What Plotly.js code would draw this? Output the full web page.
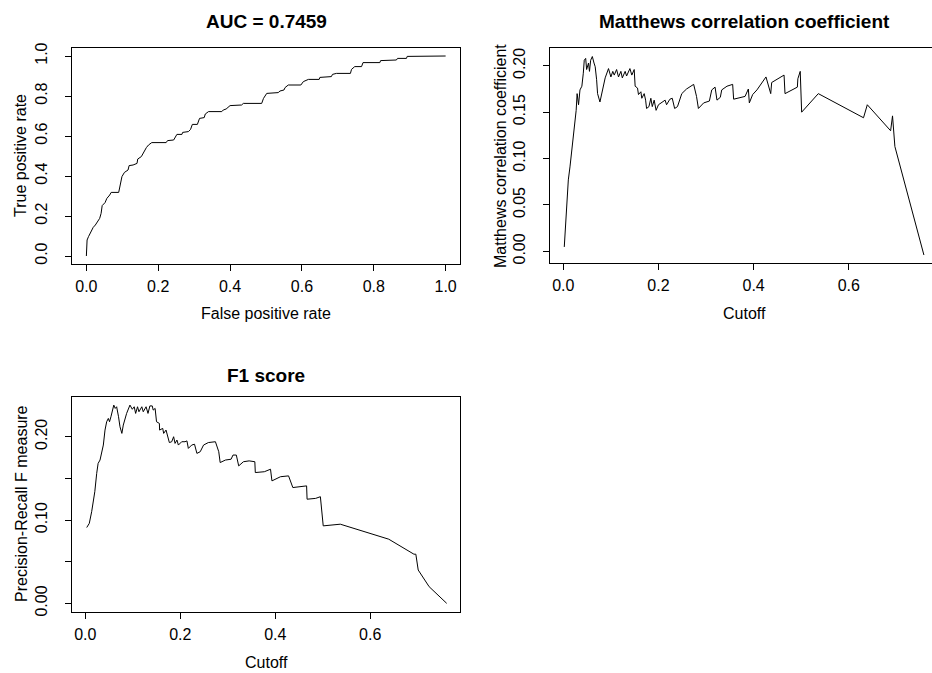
<!DOCTYPE html>
<html>
<head>
<meta charset="utf-8">
<script src="https://cdn.plot.ly/plotly-3.0.1.min.js"></script>
<style>html,body{margin:0;padding:0;background:#fff}#chart{width:932px;height:673px}</style>
</head>
<body>
<div id="chart"></div>
<script>
// ROC curve
const rocFPR = [0,0.002,0.006,0.013,0.019,0.025,0.031,0.037,0.041,0.044,0.052,0.057,0.065,0.069,0.09,0.094,0.099,0.106,0.116,0.119,0.13,0.141,0.143,0.153,0.159,0.167,0.173,0.182,0.222,0.226,0.243,0.247,0.252,0.266,0.268,0.284,0.29,0.295,0.309,0.315,0.328,0.331,0.34,0.377,0.381,0.389,0.4,0.432,0.437,0.488,0.493,0.502,0.534,0.539,0.55,0.553,0.562,0.597,0.604,0.618,0.648,0.65,0.682,0.685,0.696,0.735,0.738,0.747,0.766,0.77,0.817,0.819,0.863,0.866,0.891,0.893,1];
const rocTPR = [0,0.08,0.097,0.122,0.143,0.155,0.172,0.188,0.213,0.252,0.267,0.288,0.305,0.318,0.318,0.347,0.397,0.418,0.43,0.452,0.455,0.463,0.485,0.497,0.517,0.542,0.555,0.567,0.567,0.577,0.58,0.593,0.608,0.608,0.618,0.622,0.633,0.658,0.658,0.688,0.692,0.71,0.722,0.722,0.73,0.735,0.752,0.755,0.763,0.763,0.788,0.813,0.817,0.825,0.83,0.842,0.855,0.855,0.872,0.883,0.883,0.893,0.897,0.908,0.913,0.913,0.933,0.947,0.947,0.967,0.967,0.977,0.98,0.988,0.988,0.998,1];

// Matthews correlation coefficient vs cutoff
const mccCutoff = [0.002,0.0105,0.014,0.0175,0.021,0.022,0.0245,0.027,0.029,0.032,0.035,0.039,0.042,0.044,0.047,0.049,0.053,0.055,0.0575,0.061,0.0645,0.067,0.07,0.072,0.077,0.081,0.088,0.095,0.1,0.104,0.107,0.112,0.116,0.121,0.124,0.13,0.133,0.14,0.144,0.149,0.151,0.156,0.158,0.163,0.165,0.17,0.173,0.175,0.18,0.184,0.187,0.191,0.195,0.2,0.207,0.214,0.217,0.224,0.229,0.234,0.24,0.245,0.249,0.259,0.274,0.28,0.284,0.295,0.307,0.312,0.319,0.323,0.33,0.333,0.344,0.356,0.358,0.382,0.389,0.391,0.398,0.407,0.426,0.436,0.438,0.464,0.466,0.492,0.493,0.498,0.501,0.536,0.631,0.639,0.688,0.692,0.697,0.758];
const mccValue = [0.0047,0.077,0.091,0.109,0.12,0.127,0.145,0.152,0.17,0.158,0.174,0.178,0.192,0.206,0.208,0.196,0.203,0.194,0.206,0.21,0.203,0.199,0.185,0.17,0.161,0.17,0.187,0.197,0.188,0.194,0.19,0.196,0.188,0.194,0.187,0.194,0.189,0.197,0.19,0.196,0.178,0.176,0.169,0.172,0.165,0.17,0.163,0.154,0.156,0.165,0.156,0.163,0.152,0.158,0.161,0.163,0.158,0.164,0.165,0.154,0.156,0.165,0.17,0.175,0.18,0.167,0.154,0.16,0.162,0.174,0.177,0.163,0.166,0.174,0.178,0.18,0.164,0.167,0.175,0.16,0.169,0.174,0.188,0.17,0.182,0.19,0.17,0.177,0.186,0.194,0.15,0.17,0.144,0.158,0.13,0.146,0.113,-0.004];

// F1 score vs cutoff
const f1Cutoff = [0.003,0.0084,0.0134,0.017,0.02,0.024,0.027,0.031,0.036,0.038,0.0415,0.045,0.0485,0.051,0.054,0.057,0.06,0.063,0.066,0.07,0.073,0.077,0.08,0.087,0.094,0.099,0.103,0.106,0.11,0.113,0.119,0.122,0.128,0.132,0.136,0.141,0.143,0.147,0.15,0.156,0.1565,0.163,0.165,0.17,0.173,0.177,0.182,0.186,0.189,0.193,0.196,0.203,0.21,0.214,0.217,0.224,0.23,0.235,0.242,0.249,0.259,0.274,0.281,0.284,0.295,0.307,0.311,0.318,0.323,0.333,0.345,0.357,0.358,0.377,0.39,0.393,0.411,0.428,0.437,0.453,0.466,0.467,0.485,0.495,0.501,0.537,0.639,0.692,0.696,0.701,0.724,0.761];
const f1Value = [0.091,0.096,0.11,0.122,0.134,0.156,0.168,0.172,0.184,0.19,0.208,0.218,0.222,0.218,0.224,0.232,0.238,0.234,0.236,0.224,0.212,0.204,0.214,0.228,0.238,0.233,0.236,0.228,0.236,0.23,0.236,0.23,0.236,0.228,0.237,0.237,0.232,0.234,0.218,0.216,0.208,0.21,0.204,0.208,0.202,0.193,0.194,0.2,0.192,0.196,0.19,0.194,0.194,0.195,0.186,0.19,0.191,0.18,0.182,0.19,0.193,0.194,0.182,0.169,0.172,0.173,0.178,0.178,0.165,0.17,0.171,0.17,0.157,0.158,0.161,0.147,0.152,0.153,0.139,0.14,0.141,0.125,0.126,0.128,0.093,0.095,0.077,0.059,0.059,0.04,0.02,0.0];

const W = 932, H = 673;
const px = v => v / W;
const py = v => (H - v) / H;
const FONT = "Liberation Sans, Arial, Helvetica, sans-serif";
const FS = 16;

const lineStyle = {color: '#000', width: 1};
const traces = [
  {x: rocFPR, y: rocTPR, type: 'scatter', mode: 'lines', line: lineStyle, xaxis: 'x', yaxis: 'y', hoverinfo: 'skip'},
  {x: mccCutoff, y: mccValue, type: 'scatter', mode: 'lines', line: lineStyle, xaxis: 'x2', yaxis: 'y2', hoverinfo: 'skip'},
  {x: f1Cutoff, y: f1Value, type: 'scatter', mode: 'lines', line: lineStyle, xaxis: 'x3', yaxis: 'y3', hoverinfo: 'skip'}
];

const baseAx = {
  showline: true, linecolor: '#000', linewidth: 1, mirror: true,
  ticks: 'outside', ticklen: 6, tickcolor: '#000', tickwidth: 1,
  showgrid: false, zeroline: false, fixedrange: true,
  tickfont: {family: FONT, size: FS, color: '#000'}
};
const xAx = (o) => Object.assign({}, baseAx, {ticklabelstandoff: 2}, o);
const yAx = (o) => Object.assign({}, baseAx, {tickangle: -90, ticklabelstandoff: 12}, o);

const layout = {
  width: W, height: H,
  margin: {l: 0, r: 0, t: 0, b: 0},
  paper_bgcolor: '#fff', plot_bgcolor: '#fff',
  showlegend: false,
  font: {family: FONT, color: '#000'},
  xaxis: xAx({domain: [px(72), px(460)], range: [-0.04, 1.04], anchor: 'y',
    tickvals: [0, 0.2, 0.4, 0.6, 0.8, 1.0], ticktext: ['0.0','0.2','0.4','0.6','0.8','1.0']}),
  yaxis: yAx({domain: [py(264), py(48)], range: [-0.04, 1.04], anchor: 'x',
    tickvals: [0, 0.2, 0.4, 0.6, 0.8, 1.0], ticktext: ['0.0','0.2','0.4','0.6','0.8','1.0']}),
  xaxis2: xAx({domain: [px(550), 1], range: [-0.028, 0.775], anchor: 'y2',
    tickvals: [0, 0.2, 0.4, 0.6], ticktext: ['0.0','0.2','0.4','0.6']}),
  yaxis2: yAx({domain: [py(263), py(48)], range: [-0.0126, 0.2192], anchor: 'x2', mirror: false,
    tickvals: [0, 0.05, 0.1, 0.15, 0.2], ticktext: ['0.00','0.05','0.10','0.15','0.20']}),
  xaxis3: xAx({domain: [px(72), px(460)], range: [-0.028, 0.789], anchor: 'y3',
    tickvals: [0, 0.2, 0.4, 0.6], ticktext: ['0.0','0.2','0.4','0.6']}),
  yaxis3: yAx({domain: [py(612), py(397)], range: [-0.0104, 0.2477], anchor: 'x3',
    tickvals: [0, 0.05, 0.1, 0.15, 0.2], ticktext: ['0.00','','0.10','','0.20']}),
  annotations: []
};

function ann(text, x, y, opts) {
  return Object.assign({text: text, x: px(x), y: py(y), xref: 'paper', yref: 'paper',
    xanchor: 'center', yanchor: 'middle', showarrow: false,
    font: {family: FONT, size: FS, color: '#000'}}, opts || {});
}
const bold = {font: {family: FONT, size: 19, color: '#000', weight: 'bold'}};
layout.annotations.push(
  ann('<b>AUC = 0.7459</b>', 266, 21, bold),
  ann('<b>Matthews correlation coefficient</b>', 744, 21, bold),
  ann('<b>F1 score</b>', 266, 375, bold),
  ann('False positive rate', 266, 313),
  ann('Cutoff', 744, 313),
  ann('Cutoff', 266, 662),
  ann('True positive rate', 21, 156, {textangle: -90}),
  ann('Matthews correlation coefficient', 501, 156, {textangle: -90}),
  ann('Precision-Recall F measure', 21, 504, {textangle: -90})
);

Plotly.newPlot('chart', traces, layout, {staticPlot: true, displayModeBar: false});
</script>
</body>
</html>
